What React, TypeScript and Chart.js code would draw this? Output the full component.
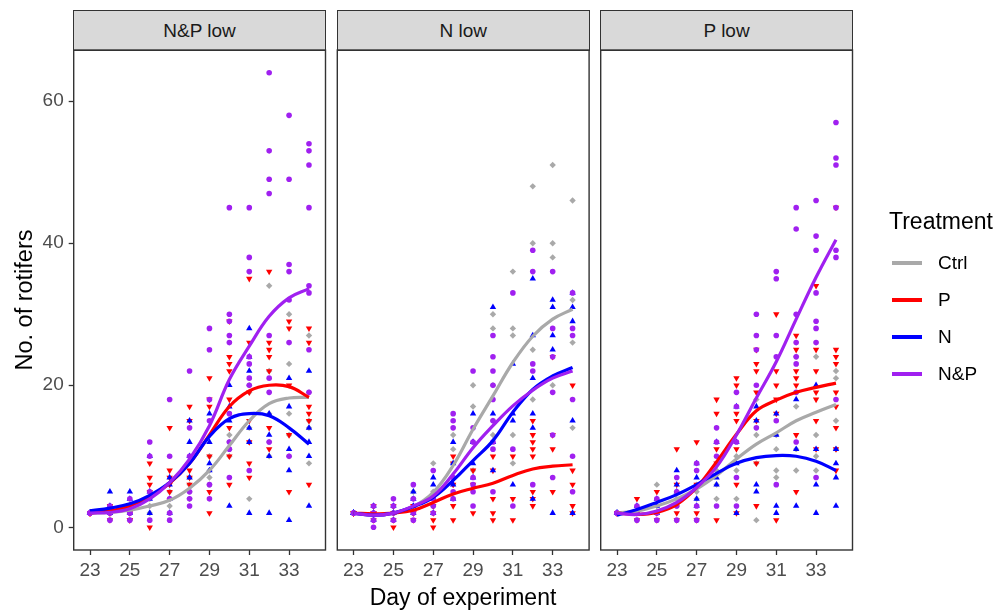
import React, { useEffect, useRef } from 'react';
import { Chart, registerables } from 'chart.js';

Chart.register(...registerables);

// ---------- data ----------
const days = [23, 24, 25, 26, 27, 28, 29, 30, 31, 32, 33, 34];
const xTickValues = [23, 25, 27, 29, 31, 33];
const yTickValues = [0, 20, 40, 60];
const treatments = ['Ctrl', 'P', 'N', 'N&P'];
const treatmentColors = ['#A9A9A9', '#FF0000', '#0000FF', '#A020F0'];
const panelTitles = ['N&P low', 'N low', 'P low'];

// Panel 1: N&P low  (raw counts per day)
const p1Ctrl = [[2,2,2,2],[2,1,3,2],[2,3,2,1],[3,4,2,5],[3,4,5,2],[5,7,4,6],[8,10,6,7],[13,11,10,12],[4,14,20,12,19],[34,16,22,12,10],[30,23,16,13,10],[27,9,15,14,19]];
const p1P = [[2,2,2,2],[1,2,2,3],[1,1,2,3],[9,7,6,5,0],[14,8,7,6,5],[17,15,8,7,6],[21,18,17,10,5,2],[29,24,23,22,18,14,10,6],[35,26,19,15,12,9,7],[36,26,25,24,22,14,11],[29,28,20,13,5],[28,26,17,16,15,6]];
const p1N = [[2,2,2,2],[5,3,2,2],[5,4,2,3],[10,5,4,2],[7,6,2,4],[15,12,10,7],[16,12,9,8],[20,17,15,3],[28,24,22,14,12,2],[16,13,10,2],[21,17,11,8,1],[22,14,12,10,3]];
const p1NP = [[2,2,2,2],[1,3,2,2],[4,2,1,2],[12,10,5,1],[18,10,4,1,2],[22,14,10,5,4,3],[28,25,18,15,6,4],[45,30,29,27,26,16,12,11,7],[45,38,36,24,23,21,20,8],[64,53,49,47,27,21,19,12],[58,49,37,36,32,26,10],[54,53,51,45,34,33,25,19]];

// Panel 2: N low
const p2Ctrl = [[2,2,2,2],[2,1,2,3],[2,3,2,1],[3,4,2,5],[9,4,3,5],[13,11,9,6],[20,17,12,8],[30,28,20,15,13],[36,28,27,13,9],[48,40,25,18],[51,40,38,20],[46,32,26,14]];
const p2P = [[2,2,2,2],[3,2,1,2],[0,3,2,1],[3,2,1,2],[1,0,2,3],[10,9,6,3,1],[8,6,2],[10,8,4,2,1],[10,4,1],[15,13,12,11,10,5,4,3],[24,13,11,5],[20,8,6,3,2]];
const p2N = [[2,2,2,2],[1,2,3,2],[2,3,2,1],[5,4,2,3],[7,6,4,2],[12,9,6,4],[16,9,12,7],[31,16,12,8],[23,16,15,6],[35,27,21,16,14,4],[32,31,27,25,2],[33,31,29,15,2]];
const p2NP = [[2,2,2,2],[0,1,3,2],[4,3,1,2],[6,4,1,2],[8,4,3,2],[16,15,14,7,5,4],[22,14,12,7,6,5,3],[27,24,22,20,18,15,12,11,5],[33,11,3],[39,36,23,22,6],[36,28,24,19,13,7],[33,28,27,18,10,5]];

// Panel 3: P low
const p3Ctrl = [[2,2,2],[2,1,2],[6,2,3],[4,5,3],[5,6,4],[8,4,6],[10,4,8],[18,13,9,1],[13,11,8,7],[24,17,11,8],[24,13,10,8],[22,21,15,11]];
const p3P = [[2,2,2],[4,1,2],[5,2,1],[11,6,2,1],[12,6,2,1],[18,16,11,9,1],[21,20,16,15,11,6,2],[25,23,22,19,15,9,3],[30,22,20,18,16,1],[27,25,22,21,20,13,5],[34,25,22,19,18,15,11],[45,25,24,23,19,17,14,11,8]];
const p3N = [[2,2,2],[2,3,2],[3,2,4],[8,6,5],[9,7,4,3],[12,6,7],[17,12,9,2],[17,15,6,5],[16,13,3,2],[18,11,3],[20,11,6,2],[11,9,7,3]];
const p3NP = [[2,2,2],[3,1,2],[4,1,2],[7,5,3,1],[9,8,3,1],[14,12,10,3],[19,17,12,7,3],[30,27,25,20,14],[36,35,27,24,15,6],[45,42,30,26,24,23,12,19],[46,41,39,33,29,28,26,7],[57,52,51,45,39,38,18]];

// Smoothed trends (value at each day)
const s1Ctrl = [2, 2.1, 2.4, 3, 3.8, 5.5, 8, 11.5, 15, 17.4, 18.2, 18.3];
const s1P = [2, 2.3, 3, 4.3, 6.2, 9, 13, 17, 19.2, 20, 19.8, 18.3];
const s1N = [2.3, 2.7, 3.3, 4.5, 6.3, 9, 12.8, 15.3, 16, 15.7, 14, 11.7];
const s1NP = [2, 2.1, 2.6, 4, 6.3, 9.6, 14.3, 20.8, 25.5, 29.7, 32.3, 33.6];

const s2Ctrl = [2, 1.7, 2, 2.9, 4.9, 8.7, 13.8, 18.5, 23.2, 26.9, 29.3, 30.7];
const s2P = [2, 1.9, 2, 2.4, 3.5, 4.7, 5.5, 6.2, 7.3, 8.2, 8.6, 8.8];
const s2N = [2, 1.7, 2, 2.9, 4.2, 6.6, 9.4, 12.2, 16.2, 19.4, 21.3, 22.5];
const s2NP = [2, 1.7, 2, 3, 4.4, 7.5, 11.2, 14.3, 17.1, 19.3, 21, 22];

const s3Ctrl = [2, 2.3, 3, 4, 5.4, 7.3, 9.6, 11.7, 13.3, 15, 16.2, 17.3];
const s3P = [2, 1.8, 2.1, 3.2, 5.6, 9.2, 13.1, 16.4, 17.9, 19, 19.7, 20.3];
const s3N = [1.7, 2.5, 3.5, 4.6, 6, 7.6, 9, 9.8, 10.1, 10, 9.3, 8];
const s3NP = [2, 1.8, 2.3, 3.5, 5.6, 8.5, 13, 18.2, 23.3, 29.3, 35.2, 40.5];

const panelPoints = [
  [p1Ctrl, p1P, p1N, p1NP],
  [p2Ctrl, p2P, p2N, p2NP],
  [p3Ctrl, p3P, p3N, p3NP],
];
const panelSmooth = [
  [s1Ctrl, s1P, s1N, s1NP],
  [s2Ctrl, s2P, s2N, s2NP],
  [s3Ctrl, s3P, s3N, s3NP],
];

// ---------- layout / style ----------
const W = 997;
const H = 610;
const FONT = "'Liberation Sans', Arial, Helvetica, sans-serif";
const PANEL_LEFT = [73.7, 337.3, 600.7];
const PANEL_W = 251.8;
const PANEL_TOP = 50;
const PANEL_BOTTOM = 550;
const STRIP_TOP = 10.5;
const X_MIN = 22.18;
const X_MAX = 34.83;
const Y_MIN = -3.2;
const Y_MAX = 67.2;

const pointStyles = ['rectRot', 'triangle', 'triangle', 'circle'];
const pointRadii = [3.2, 3.7, 3.7, 2.8];
const pointRotations = [0, 180, 0, 0];

const borderPlugin = {
  id: 'panelBorder',
  afterDraw(chart: any) {
    const { ctx, chartArea: a } = chart;
    ctx.save();
    ctx.strokeStyle = '#333333';
    ctx.lineWidth = 1.4;
    ctx.strokeRect(a.left, a.top, a.right - a.left, a.bottom - a.top);
    ctx.restore();
  },
};

function buildConfig(pi: number): any {
  const datasets: any[] = [];
  treatments.forEach((name, t) => {
    const sm = panelSmooth[pi][t];
    datasets.push({
      label: name + ' trend',
      data: days.map((d, i) => ({ x: d, y: sm[i] })),
      showLine: true,
      borderColor: treatmentColors[t],
      backgroundColor: treatmentColors[t],
      borderWidth: 3.2,
      pointRadius: 0,
      tension: 0.4,
      fill: false,
      order: 3 - t,
    });
  });
  treatments.forEach((name, t) => {
    const vals = panelPoints[pi][t];
    datasets.push({
      label: name,
      data: days.flatMap((d, i) => vals[i].map((v) => ({ x: d, y: v }))),
      showLine: false,
      backgroundColor: treatmentColors[t],
      borderColor: treatmentColors[t],
      borderWidth: 0,
      pointStyle: pointStyles[t],
      pointRadius: pointRadii[t],
      rotation: pointRotations[t],
      order: 10 + (3 - t),
    });
  });

  const left = PANEL_LEFT[pi];
  const right = left + PANEL_W;
  const X_AXIS_H = 40;

  return {
    type: 'scatter',
    data: { datasets },
    plugins: [borderPlugin],
    options: {
      animation: false,
      responsive: false,
      maintainAspectRatio: false,
      devicePixelRatio: 1,
      events: [],
      layout: {
        padding: {
          left: pi === 0 ? 0 : left,
          right: W - right,
          top: PANEL_TOP,
          bottom: H - PANEL_BOTTOM - X_AXIS_H,
        },
      },
      plugins: { legend: { display: false }, tooltip: { enabled: false }, title: { display: false } },
      scales: {
        x: {
          type: 'linear',
          min: X_MIN,
          max: X_MAX,
          afterBuildTicks: (s: any) => {
            s.ticks = xTickValues.map((v) => ({ value: v }));
          },
          afterFit: (s: any) => {
            s.height = X_AXIS_H;
          },
          ticks: {
            font: { family: FONT, size: 19 },
            color: '#4D4D4D',
            padding: 4,
            maxRotation: 0,
            autoSkip: false,
            callback: (v: any) => String(v),
          },
          grid: {
            display: true,
            drawOnChartArea: false,
            drawTicks: true,
            tickLength: 5,
            tickColor: '#333333',
            tickWidth: 1.3,
          },
          border: { display: false },
        },
        y: {
          type: 'linear',
          display: pi === 0,
          min: Y_MIN,
          max: Y_MAX,
          afterBuildTicks: (s: any) => {
            s.ticks = yTickValues.map((v) => ({ value: v }));
          },
          afterFit: (s: any) => {
            s.width = pi === 0 ? PANEL_LEFT[0] : 0;
          },
          ticks: {
            font: { family: FONT, size: 19 },
            color: '#4D4D4D',
            padding: 5,
            callback: (v: any) => String(v),
          },
          grid: {
            display: true,
            drawOnChartArea: false,
            drawTicks: true,
            tickLength: 5,
            tickColor: '#333333',
            tickWidth: 1.3,
          },
          border: { display: false },
        },
      },
    },
  };
}

function PanelChart({ index }: { index: number }) {
  const ref = useRef<HTMLCanvasElement>(null);
  useEffect(() => {
    if (!ref.current) return;
    const chart = new Chart(ref.current, buildConfig(index));
    return () => chart.destroy();
  }, [index]);
  return (
    <canvas
      ref={ref}
      width={W}
      height={H}
      style={{ position: 'absolute', left: 0, top: 0, width: W, height: H }}
    />
  );
}

export default function App() {
  return (
    <div
      style={{
        position: 'absolute',
        left: 0,
        top: 0,
        width: W,
        height: H,
        background: '#FFFFFF',
        fontFamily: FONT,
        overflow: 'hidden',
      }}
    >
      {panelTitles.map((title, i) => (
        <div
          key={title}
          style={{
            position: 'absolute',
            left: PANEL_LEFT[i] - 0.7,
            top: STRIP_TOP - 0.7,
            width: PANEL_W + 1.4,
            height: PANEL_TOP - STRIP_TOP + 1.4,
            boxSizing: 'border-box',
            background: '#D9D9D9',
            border: '1.4px solid #333333',
            display: 'flex',
            alignItems: 'center',
            justifyContent: 'center',
            fontSize: 19,
            color: '#1A1A1A',
            whiteSpace: 'nowrap',
            paddingTop: 1,
          }}
        >
          {title}
        </div>
      ))}
      {[0, 1, 2].map((i) => (
        <PanelChart key={i} index={i} />
      ))}
      <div
        style={{
          position: 'absolute',
          left: 24 - 150,
          top: 300 - 15,
          width: 300,
          height: 30,
          lineHeight: '30px',
          textAlign: 'center',
          fontSize: 23.5,
          color: '#000000',
          transform: 'rotate(-90deg)',
          whiteSpace: 'nowrap',
        }}
      >
        No. of rotifers
      </div>
      <div
        style={{
          position: 'absolute',
          left: 463 - 200,
          top: 597 - 15,
          width: 400,
          height: 30,
          lineHeight: '30px',
          textAlign: 'center',
          fontSize: 23,
          color: '#000000',
          whiteSpace: 'nowrap',
        }}
      >
        Day of experiment
      </div>
      <div
        style={{
          position: 'absolute',
          left: 889,
          top: 221 - 15,
          height: 30,
          lineHeight: '30px',
          fontSize: 23,
          color: '#000000',
          whiteSpace: 'nowrap',
        }}
      >
        Treatment
      </div>
      {treatments.map((name, t) => {
        const cy = 263 + t * 37;
        return (
          <React.Fragment key={name}>
            <div
              style={{
                position: 'absolute',
                left: 892,
                top: cy - 1.6,
                width: 30,
                height: 3.2,
                background: treatmentColors[t],
              }}
            />
            <div
              style={{
                position: 'absolute',
                left: 938,
                top: cy - 12,
                height: 24,
                lineHeight: '24px',
                fontSize: 19,
                color: '#000000',
                whiteSpace: 'nowrap',
              }}
            >
              {name}
            </div>
          </React.Fragment>
        );
      })}
    </div>
  );
}
